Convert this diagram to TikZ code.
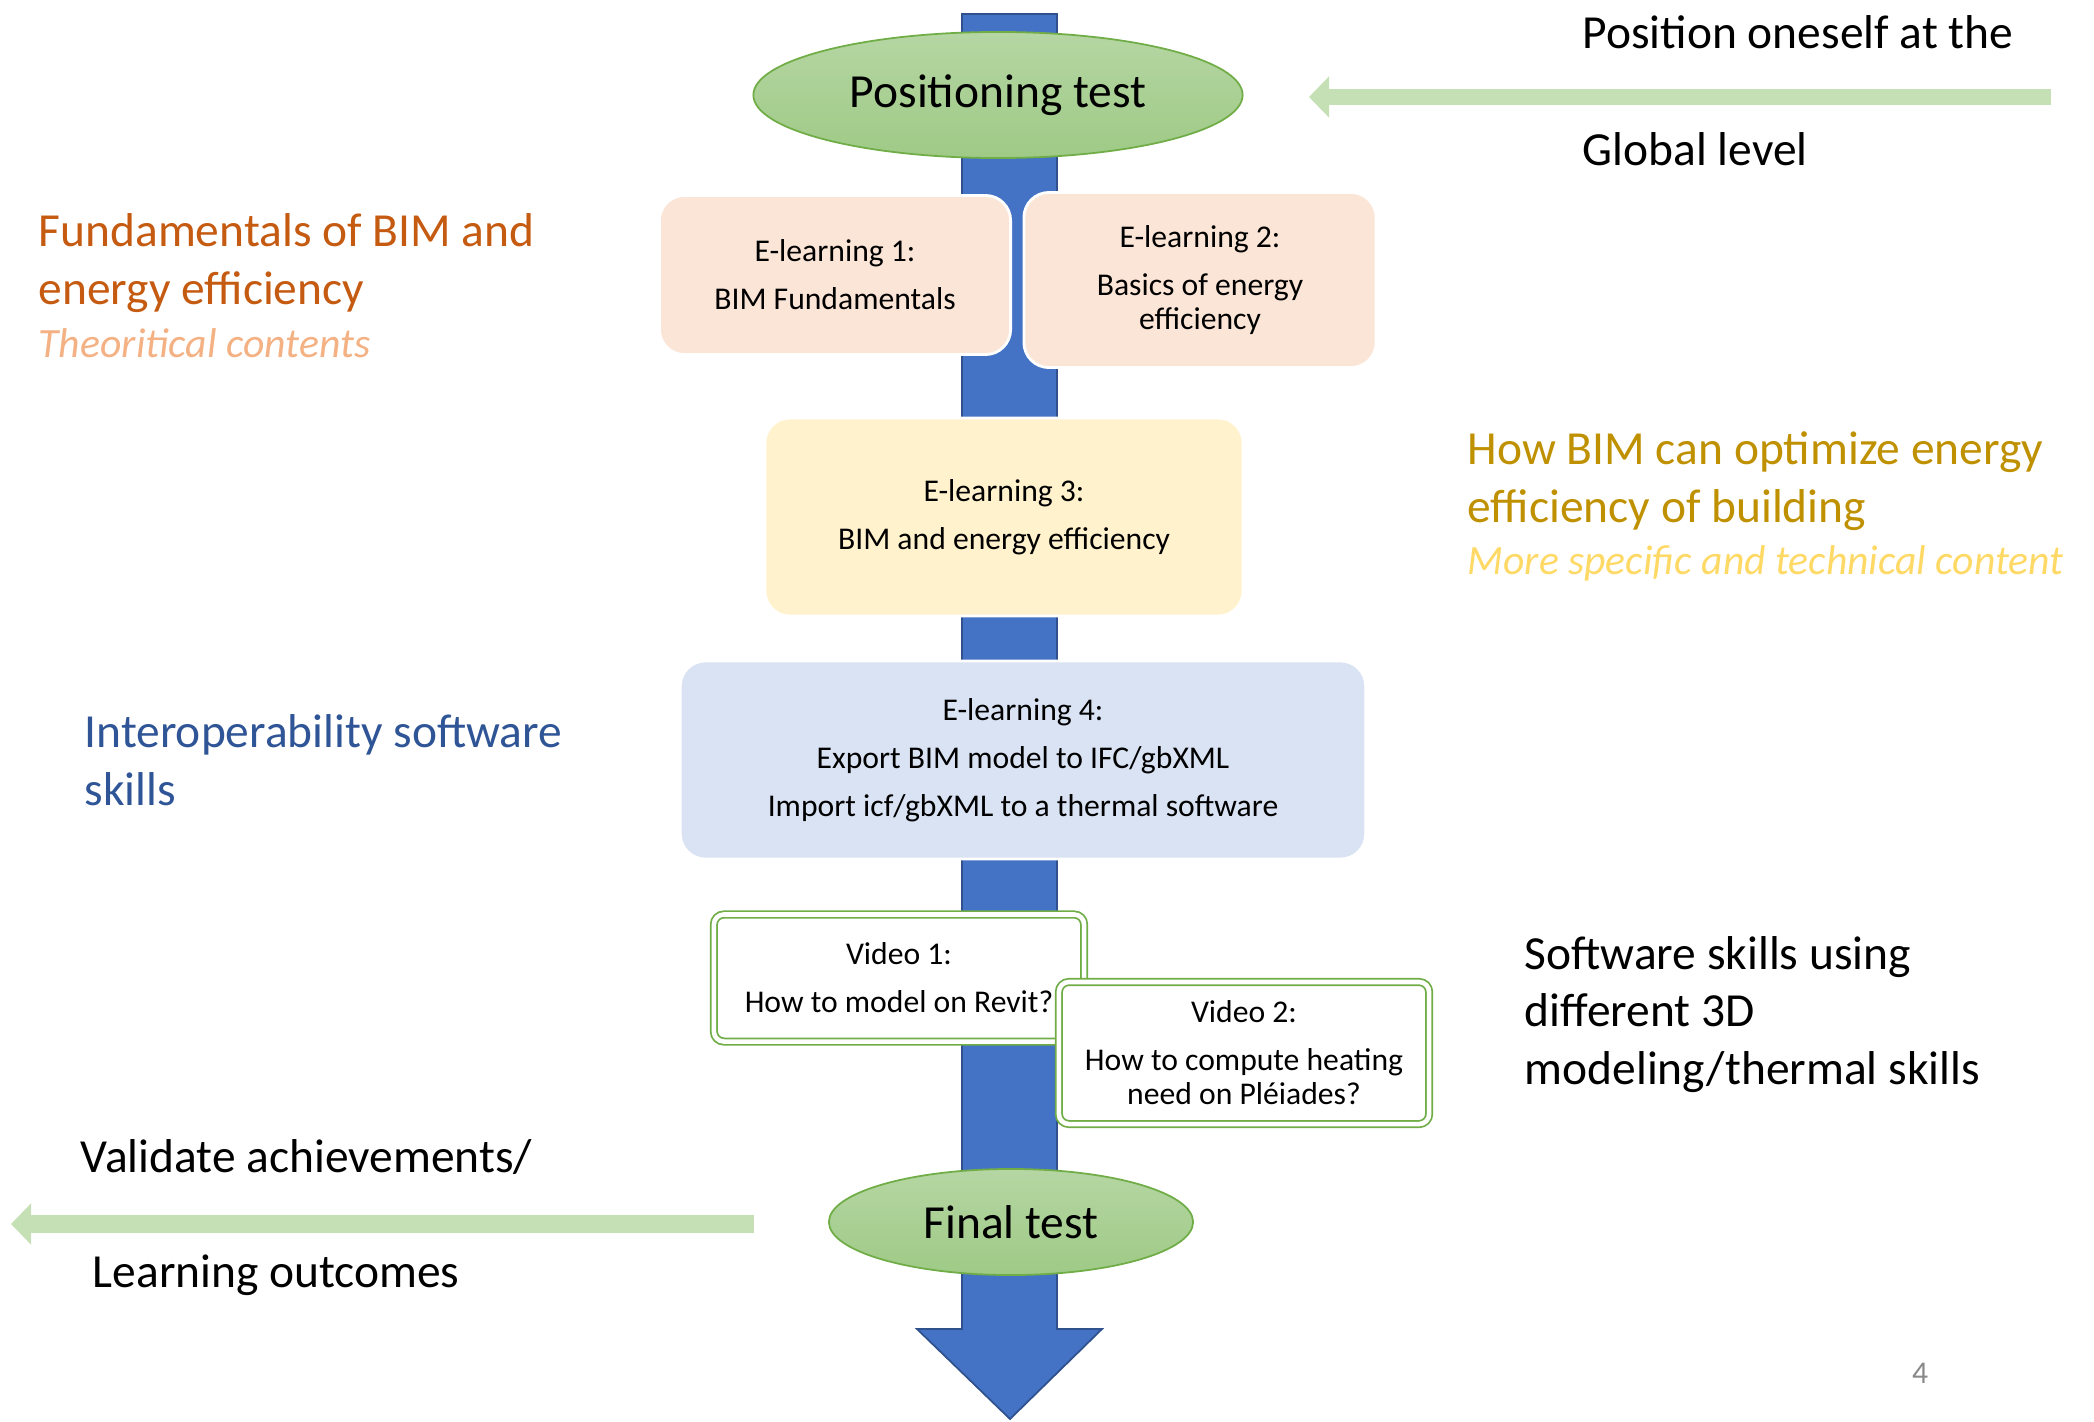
\documentclass[tikz,border=0pt]{standalone}
\usepackage{fontspec}
\setmainfont{Carlito}
\usetikzlibrary{calc,shapes.geometric,arrows.meta}

\definecolor{arrowblue}{HTML}{4472C4}
\definecolor{arrowedge}{HTML}{2F528F}
\definecolor{hintgreen}{HTML}{C5E0B4}
\definecolor{testtop}{HTML}{B5D6A3}
\definecolor{testbot}{HTML}{9FCA86}
\definecolor{testedge}{HTML}{70AD47}
\definecolor{peach}{HTML}{FBE5D6}
\definecolor{cream}{HTML}{FFF2CC}
\definecolor{paleblue}{HTML}{DAE3F3}
\definecolor{fundorange}{HTML}{C55A11}
\definecolor{fundlight}{HTML}{F4B183}
\definecolor{optgold}{HTML}{BF9000}
\definecolor{optlight}{HTML}{FFD966}
\definecolor{interblue}{HTML}{2F5597}
\definecolor{pagegrey}{HTML}{898989}

\newcommand{\bigtxt}{\fontsize{13.5}{16.35}\selectfont}
\newcommand{\subtxt}{\fontsize{11.85}{14}\selectfont}
\newcommand{\boxtxt}{\fontsize{9}{9.7}\selectfont}

\begin{document}
\begin{tikzpicture}[x=0.01cm, y=-0.01cm,
    testoval/.style={ellipse, draw=testedge, line width=0.5pt, top color=testtop, bottom color=testbot, inner sep=0pt, font=\bigtxt},
    elearn/.style={rounded corners=0.25cm, draw=white, line width=0.8pt, inner sep=0pt, align=center, font=\boxtxt},
    video/.style={rounded corners=0.1cm, draw=testedge, double=white, double distance=1.3pt, line width=0.5pt, inner sep=0pt, align=center, font=\boxtxt},
    sidetext/.style={anchor=base west, inner sep=0pt, align=left, font=\bigtxt},
    hintarrow/.style={draw=hintgreen, -{Triangle[width=0.4cm, length=0.2cm]}}]
    \useasboundingbox (0,0) rectangle (2094,1421);

    % main flow
    \filldraw[fill=arrowblue, draw=arrowedge, line width=0.5pt] (962,14) -- (1057,14) -- (1057,1329) -- (1102,1329) -- (1010,1419) -- (917,1329) -- (962,1329) -- cycle;

    \node[testoval, minimum width=4.89cm, minimum height=1.26cm] (postest) at (998,95) {Positioning test};

    \node[elearn, fill=peach, minimum width=3.51cm, minimum height=1.59cm] (el1) at (835,275) {E-learning 1:\\[3.96pt]BIM Fundamentals};
    \node[elearn, fill=peach, minimum width=3.52cm, minimum height=1.75cm] (el2) at (1200,280) {E-learning 2:\\[3.96pt]Basics of energy\\efficiency};
    \node[elearn, fill=cream, minimum width=4.78cm, minimum height=1.98cm] (el3) at (1004,517) {E-learning 3:\\[3.96pt]BIM and energy efficiency};
    \node[elearn, fill=paleblue, minimum width=6.85cm, minimum height=1.98cm] (el4) at (1023,760) {E-learning 4:\\[3.96pt]Export BIM model to IFC/gbXML\\[3.96pt]Import icf/gbXML to a thermal software};

    \node[video, fill=white, minimum width=3.70cm, minimum height=1.27cm] (vid1) at (899,978) {Video 1:\\[3.96pt]How to model on Revit?};
    \node[video, fill=white, minimum width=3.70cm, minimum height=1.42cm] (vid2) at (1244,1053) {Video 2:\\[3.96pt]How to compute heating\\need on Pléiades?};

    \node[testoval, minimum width=3.64cm, minimum height=1.06cm] (fintest) at (1011,1222) {Final test};

    % side notes
    \coordinate (posfrom) at (2051,97);
    \coordinate (posto) at (1309,97);
    \draw[hintarrow, line width=0.16cm] (posfrom) -- (posto);
    \node[sidetext] (globtop) at (1582,48) {Position oneself at the};
    \node[sidetext] (globbot) at (1582,165) {Global level};

    \node[sidetext, text=fundorange] (fund) at (38,304) {Fundamentals of BIM and\\energy efficiency};
    \node[sidetext, font=\subtxt\itshape, text=fundlight] (theo) at (38,357) {Theoritical contents};

    \node[sidetext, text=optgold] (opt) at (1467,522) {How BIM can optimize energy\\efficiency of building};
    \node[sidetext, font=\subtxt\itshape, text=optlight] (spec) at (1467,574) {More specific and technical content};

    \node[sidetext, text=interblue] (inter) at (84,805) {Interoperability software\\skills};

    \node[sidetext] (soft) at (1524,1084) {Software skills using\\different 3D\\modeling/thermal skills};

    \coordinate (finfrom) at (754,1224);
    \coordinate (finto) at (11,1224);
    \draw[hintarrow, line width=0.18cm] (finfrom) -- (finto);
    \node[sidetext] (valid) at (80,1172) {Validate achievements/};
    \node[sidetext] (outc) at (92,1287) {Learning outcomes};

    \node[font=\fontsize{9}{10}\selectfont, text=pagegrey] (pagenum) at (1920,1373) {4};
\end{tikzpicture}
\end{document}
